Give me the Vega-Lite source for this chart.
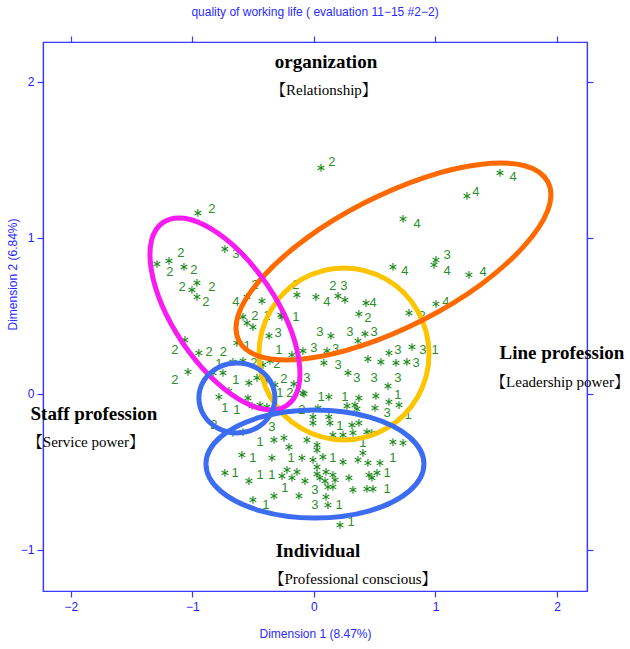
{
"$schema": "https://vega.github.io/schema/vega-lite/v6.json",
"width": 544, "height": 549,
"autosize": {"type": "none"},
"padding": {"left": 43, "top": 42, "right": 43, "bottom": 58},
"background": "white",
"title": {"text": "quality of working life ( evaluation 11−15 #2−2)", "fontSize": 12, "font": "Liberation Sans", "fontWeight": "normal", "color": "#2a2aff", "offset": 16, "anchor": "middle"},
"config": {
  "view": {"stroke": "#3a3aff", "strokeWidth": 1.2},
  "axis": {"domainColor": "#3a3aff", "domainWidth": 1.2, "tickColor": "#3a3aff", "tickWidth": 1.2, "labelColor": "#1a1aff", "titleColor": "#2a2aff", "labelFont": "Liberation Sans", "titleFont": "Liberation Sans", "labelFontSize": 12, "titleFontSize": 12, "titleFontWeight": "normal", "grid": false, "tickSize": 6, "zindex": 1}
},
"datasets": {
  "stars": [{"x":0.058,"y":1.449},{"x":-0.955,"y":1.160},{"x":-0.733,"y":0.929},{"x":-1.292,"y":0.833},{"x":-1.193,"y":0.853},{"x":-1.070,"y":0.814},{"x":-0.963,"y":0.712},{"x":-1.004,"y":0.667},{"x":-0.963,"y":0.622},{"x":-0.551,"y":0.622},{"x":-0.428,"y":0.596},{"x":-0.584,"y":0.494},{"x":-0.263,"y":0.494},{"x":-0.140,"y":0.635},{"x":0.016,"y":0.622},{"x":1.531,"y":1.417},{"x":1.259,"y":1.269},{"x":0.733,"y":1.122},{"x":0.650,"y":0.814},{"x":1.004,"y":0.859},{"x":0.988,"y":0.827},{"x":1.276,"y":0.763},{"x":0.198,"y":0.628},{"x":0.255,"y":0.603},{"x":0.428,"y":0.583},{"x":0.370,"y":0.513},{"x":1.004,"y":0.577},{"x":0.782,"y":0.519},{"x":0.140,"y":0.372},{"x":0.362,"y":0.340},{"x":0.420,"y":0.385},{"x":-0.091,"y":0.276},{"x":0.107,"y":0.276},{"x":0.617,"y":0.263},{"x":0.807,"y":0.301},{"x":0.082,"y":0.199},{"x":0.444,"y":0.224},{"x":0.551,"y":0.205},{"x":0.675,"y":0.199},{"x":0.765,"y":0.205},{"x":0.280,"y":0.135},{"x":0.609,"y":0.051},{"x":-0.091,"y":0.006},{"x":0.123,"y":-0.019},{"x":0.370,"y":-0.026},{"x":0.510,"y":-0.013},{"x":0.272,"y":-0.077},{"x":0.337,"y":-0.071},{"x":0.354,"y":-0.096},{"x":0.502,"y":-0.090},{"x":0.617,"y":-0.051},{"x":0.700,"y":-0.071},{"x":0.033,"y":-0.090},{"x":-0.008,"y":-0.147},{"x":0.123,"y":-0.147},{"x":0.313,"y":-0.199},{"x":0.370,"y":-0.186},{"x":-0.272,"y":0.506},{"x":-0.551,"y":0.455},{"x":-0.502,"y":0.429},{"x":-0.370,"y":0.372},{"x":-0.634,"y":0.327},{"x":-0.181,"y":0.250},{"x":-1.062,"y":0.346},{"x":-0.947,"y":0.263},{"x":-0.667,"y":0.205},{"x":-0.584,"y":0.212},{"x":-0.420,"y":0.186},{"x":-0.362,"y":0.212},{"x":-1.037,"y":0.141},{"x":-0.831,"y":0.135},{"x":-0.749,"y":0.135},{"x":-0.535,"y":0.071},{"x":-0.469,"y":0.103},{"x":-0.387,"y":0.090},{"x":-0.165,"y":0.064},{"x":-0.700,"y":0.019},{"x":-0.321,"y":0.058},{"x":-0.082,"y":0.0},{"x":-0.543,"y":-0.026},{"x":-0.444,"y":-0.071},{"x":-0.387,"y":-0.083},{"x":-0.782,"y":-0.019},{"x":-0.667,"y":-0.250},{"x":-0.584,"y":-0.244},{"x":0.132,"y":-0.186},{"x":0.239,"y":-0.263},{"x":0.156,"y":-0.263},{"x":0.321,"y":-0.250},{"x":0.436,"y":-0.244},{"x":0.477,"y":-0.250},{"x":0.650,"y":-0.308},{"x":0.733,"y":-0.314},{"x":-0.329,"y":-0.295},{"x":-0.247,"y":-0.282},{"x":-0.206,"y":-0.340},{"x":-0.058,"y":-0.295},{"x":0.025,"y":-0.327},{"x":0.025,"y":-0.359},{"x":-0.593,"y":-0.391},{"x":-0.346,"y":-0.410},{"x":-0.099,"y":-0.410},{"x":-0.008,"y":-0.423},{"x":0.074,"y":-0.404},{"x":0.239,"y":-0.436},{"x":0.362,"y":-0.423},{"x":0.444,"y":-0.442},{"x":0.543,"y":-0.442},{"x":0.403,"y":-0.378},{"x":-0.733,"y":-0.506},{"x":-0.535,"y":-0.558},{"x":-0.263,"y":-0.526},{"x":-0.222,"y":-0.487},{"x":-0.181,"y":-0.538},{"x":-0.140,"y":-0.500},{"x":-0.074,"y":-0.558},{"x":0.025,"y":-0.468},{"x":0.025,"y":-0.513},{"x":0.049,"y":-0.538},{"x":0.099,"y":-0.500},{"x":0.091,"y":-0.558},{"x":0.156,"y":-0.519},{"x":0.173,"y":-0.551},{"x":0.156,"y":-0.596},{"x":0.288,"y":-0.538},{"x":0.453,"y":-0.519},{"x":0.519,"y":-0.506},{"x":0.477,"y":-0.538},{"x":-0.329,"y":-0.654},{"x":-0.123,"y":-0.654},{"x":-0.502,"y":-0.679},{"x":0.115,"y":-0.596},{"x":0.321,"y":-0.615},{"x":0.436,"y":-0.609},{"x":0.486,"y":-0.609},{"x":0.099,"y":-0.660},{"x":0.115,"y":-0.712},{"x":0.214,"y":-0.840},{"x":-0.008,"y":-0.186},{"x":-0.510,"y":-0.077}],
  "labels": [{"x":0.148,"y":1.487,"t":"2"},{"x":-0.840,"y":1.186,"t":"2"},{"x":-0.642,"y":0.897,"t":"3"},{"x":-1.095,"y":0.904,"t":"2"},{"x":-1.185,"y":0.782,"t":"2"},{"x":-0.988,"y":0.795,"t":"2"},{"x":-1.086,"y":0.686,"t":"2"},{"x":-0.840,"y":0.686,"t":"2"},{"x":-0.889,"y":0.590,"t":"2"},{"x":-0.642,"y":0.590,"t":"4"},{"x":-0.486,"y":0.699,"t":"2"},{"x":-0.486,"y":0.500,"t":"2"},{"x":-0.387,"y":0.500,"t":"1"},{"x":-0.148,"y":0.494,"t":"1"},{"x":-0.148,"y":0.699,"t":"2"},{"x":1.638,"y":1.391,"t":"4"},{"x":1.333,"y":1.295,"t":"4"},{"x":0.848,"y":1.090,"t":"4"},{"x":0.749,"y":0.788,"t":"4"},{"x":1.095,"y":0.891,"t":"3"},{"x":1.095,"y":0.788,"t":"4"},{"x":1.391,"y":0.782,"t":"4"},{"x":0.107,"y":0.590,"t":"4"},{"x":0.156,"y":0.692,"t":"2"},{"x":0.247,"y":0.692,"t":"3"},{"x":0.486,"y":0.583,"t":"4"},{"x":0.444,"y":0.487,"t":"2"},{"x":1.086,"y":0.590,"t":"4"},{"x":0.889,"y":0.500,"t":"2"},{"x":0.049,"y":0.397,"t":"3"},{"x":0.296,"y":0.397,"t":"3"},{"x":0.494,"y":0.397,"t":"3"},{"x":0.0,"y":0.295,"t":"3"},{"x":0.178,"y":0.287,"t":"3"},{"x":0.691,"y":0.282,"t":"3"},{"x":0.897,"y":0.282,"t":"3"},{"x":0.996,"y":0.282,"t":"1"},{"x":0.198,"y":0.188,"t":"3"},{"x":0.840,"y":0.199,"t":"3"},{"x":0.354,"y":0.103,"t":"3"},{"x":0.494,"y":0.103,"t":"3"},{"x":0.691,"y":0.103,"t":"3"},{"x":-0.058,"y":0.103,"t":"3"},{"x":0.058,"y":-0.019,"t":"1"},{"x":0.255,"y":-0.019,"t":"1"},{"x":0.691,"y":-0.006,"t":"1"},{"x":0.601,"y":-0.122,"t":"3"},{"x":0.774,"y":-0.135,"t":"1"},{"x":0.214,"y":-0.205,"t":"1"},{"x":-0.296,"y":0.391,"t":"3"},{"x":-0.551,"y":0.308,"t":"1"},{"x":-0.288,"y":0.282,"t":"1"},{"x":-1.144,"y":0.282,"t":"2"},{"x":-0.862,"y":0.269,"t":"2"},{"x":-0.745,"y":0.269,"t":"2"},{"x":-0.782,"y":0.195,"t":"1"},{"x":-0.494,"y":0.199,"t":"2"},{"x":-0.305,"y":0.192,"t":"2"},{"x":-1.144,"y":0.090,"t":"2"},{"x":-0.642,"y":0.090,"t":"1"},{"x":-0.247,"y":0.096,"t":"2"},{"x":-0.280,"y":0.006,"t":"1"},{"x":-0.198,"y":0.006,"t":"2"},{"x":-0.733,"y":-0.090,"t":"1"},{"x":-0.634,"y":-0.103,"t":"1"},{"x":-0.823,"y":-0.199,"t":"2"},{"x":-0.346,"y":-0.212,"t":"3"},{"x":-0.099,"y":-0.103,"t":"2"},{"x":-0.444,"y":-0.308,"t":"1"},{"x":-0.502,"y":-0.410,"t":"1"},{"x":-0.189,"y":-0.410,"t":"1"},{"x":0.156,"y":-0.410,"t":"1"},{"x":0.403,"y":-0.314,"t":"1"},{"x":0.650,"y":-0.410,"t":"1"},{"x":-0.650,"y":-0.506,"t":"1"},{"x":-0.444,"y":-0.519,"t":"1"},{"x":-0.346,"y":-0.519,"t":"1"},{"x":0.601,"y":-0.506,"t":"1"},{"x":-0.239,"y":-0.603,"t":"1"},{"x":-0.395,"y":-0.712,"t":"1"},{"x":0.601,"y":-0.609,"t":"1"},{"x":0.008,"y":-0.615,"t":"3"},{"x":0.008,"y":-0.712,"t":"3"},{"x":0.206,"y":-0.712,"t":"1"},{"x":0.305,"y":-0.821,"t":"1"}],
  "ellipses": [
    {"e":"yellow","i":0,"x":0.947,"y":0.256},{"e":"yellow","i":1,"x":0.853,"y":-0.019},{"e":"yellow","i":2,"x":0.597,"y":-0.221},{"e":"yellow","i":3,"x":0.247,"y":-0.295},{"e":"yellow","i":4,"x":-0.103,"y":-0.221},{"e":"yellow","i":5,"x":-0.359,"y":-0.019},{"e":"yellow","i":6,"x":-0.453,"y":0.256},{"e":"yellow","i":7,"x":-0.359,"y":0.532},{"e":"yellow","i":8,"x":-0.103,"y":0.734},{"e":"yellow","i":9,"x":0.247,"y":0.808},{"e":"yellow","i":10,"x":0.597,"y":0.734},{"e":"yellow","i":11,"x":0.853,"y":0.532},
    {"e":"orange","i":0,"x":1.926,"y":1.358},{"e":"orange","i":1,"x":1.924,"y":1.177},{"e":"orange","i":2,"x":1.727,"y":0.946},{"e":"orange","i":3,"x":1.369,"y":0.699},{"e":"orange","i":4,"x":0.900,"y":0.476},{"e":"orange","i":5,"x":0.394,"y":0.310},{"e":"orange","i":6,"x":-0.071,"y":0.226},{"e":"orange","i":7,"x":-0.426,"y":0.236},{"e":"orange","i":8,"x":-0.617,"y":0.340},{"e":"orange","i":9,"x":-0.616,"y":0.522},{"e":"orange","i":10,"x":-0.418,"y":0.753},{"e":"orange","i":11,"x":-0.060,"y":0.999},{"e":"orange","i":12,"x":0.408,"y":1.222},{"e":"orange","i":13,"x":0.914,"y":1.389},{"e":"orange","i":14,"x":1.379,"y":1.472},{"e":"orange","i":15,"x":1.735,"y":1.463},
    {"e":"magenta","i":0,"x":-0.224,"y":-0.074},{"e":"magenta","i":1,"x":-0.397,"y":-0.100},{"e":"magenta","i":2,"x":-0.620,"y":-0.033},{"e":"magenta","i":3,"x":-0.861,"y":0.118},{"e":"magenta","i":4,"x":-1.082,"y":0.329},{"e":"magenta","i":5,"x":-1.251,"y":0.568},{"e":"magenta","i":6,"x":-1.339,"y":0.798},{"e":"magenta","i":7,"x":-1.337,"y":0.985},{"e":"magenta","i":8,"x":-1.241,"y":1.100},{"e":"magenta","i":9,"x":-1.068,"y":1.126},{"e":"magenta","i":10,"x":-0.845,"y":1.058},{"e":"magenta","i":11,"x":-0.604,"y":0.908},{"e":"magenta","i":12,"x":-0.383,"y":0.697},{"e":"magenta","i":13,"x":-0.214,"y":0.458},{"e":"magenta","i":14,"x":-0.126,"y":0.228},{"e":"magenta","i":15,"x":-0.128,"y":0.041},
    {"e":"bluesmall","i":0,"x":-0.321,"y":-0.026},{"e":"bluesmall","i":1,"x":-0.363,"y":-0.138},{"e":"bluesmall","i":2,"x":-0.477,"y":-0.220},{"e":"bluesmall","i":3,"x":-0.634,"y":-0.250},{"e":"bluesmall","i":4,"x":-0.790,"y":-0.220},{"e":"bluesmall","i":5,"x":-0.905,"y":-0.138},{"e":"bluesmall","i":6,"x":-0.947,"y":-0.026},{"e":"bluesmall","i":7,"x":-0.905,"y":0.087},{"e":"bluesmall","i":8,"x":-0.790,"y":0.169},{"e":"bluesmall","i":9,"x":-0.634,"y":0.199},{"e":"bluesmall","i":10,"x":-0.477,"y":0.169},{"e":"bluesmall","i":11,"x":-0.363,"y":0.087},
    {"e":"bluebig","i":0,"x":0.905,"y":-0.449},{"e":"bluebig","i":1,"x":0.785,"y":-0.622},{"e":"bluebig","i":2,"x":0.457,"y":-0.749},{"e":"bluebig","i":3,"x":0.008,"y":-0.795},{"e":"bluebig","i":4,"x":-0.440,"y":-0.749},{"e":"bluebig","i":5,"x":-0.769,"y":-0.622},{"e":"bluebig","i":6,"x":-0.889,"y":-0.449},{"e":"bluebig","i":7,"x":-0.769,"y":-0.276},{"e":"bluebig","i":8,"x":-0.440,"y":-0.149},{"e":"bluebig","i":9,"x":0.008,"y":-0.103},{"e":"bluebig","i":10,"x":0.457,"y":-0.149},{"e":"bluebig","i":11,"x":0.785,"y":-0.276}
  ],
  "heads": [{"x":0.099,"y":2.128,"t":"organization"},{"x":2.041,"y":0.263,"t":"Line profession"},{"x":-1.811,"y":-0.128,"t":"Staff profession"},{"x":0.033,"y":-1.006,"t":"Individual"}],
  "subs": [{"x":0.082,"y":1.949,"t":"【Relationship】"},{"x":2.025,"y":0.077,"t":"【Leadership power】"},{"x":-1.877,"y":-0.308,"t":"【Service power】"},{"x":0.321,"y":-1.186,"t":"【Professional conscious】"}]
},
"layer": [
  {"data": {"name": "heads"}, "mark": {"type": "text", "font": "Liberation Serif", "fontSize": 19, "fontWeight": "bold", "color": "black", "align": "center", "baseline": "middle", "clip": false},
   "encoding": {
     "x": {"field": "x", "type": "quantitative", "scale": {"domain": [-2.230, 2.247], "nice": false, "zero": false},
           "axis": {"orient": "bottom", "values": [-2, -1, 0, 1, 2], "title": "Dimension 1 (8.47%)", "titlePadding": 16, "labelPadding": 4}},
     "y": {"field": "y", "type": "quantitative", "scale": {"domain": [-1.263, 2.256], "nice": false, "zero": false},
           "axis": {"orient": "left", "values": [-1, 0, 1, 2], "title": "Dimension 2 (6.84%)", "labelPadding": 3, "titleX": -31, "titleY": 232, "titleBaseline": "middle"}},
     "text": {"field": "t"}}},
  {"data": {"name": "subs"}, "mark": {"type": "text", "font": "Liberation Serif, Noto Serif CJK SC, Noto Sans CJK SC", "fontSize": 15, "color": "black", "align": "center", "baseline": "middle"},
   "encoding": {"x": {"field": "x", "type": "quantitative", "axis": null}, "y": {"field": "y", "type": "quantitative", "axis": null}, "text": {"field": "t"}}},
  {"mark": {"type": "rule", "color": "#1a1aff", "strokeWidth": 1},
   "encoding": {"x": {"datum": 0, "type": "quantitative", "axis": {"orient": "top", "values": [-2, -1, 0, 1, 2], "labels": false, "title": null}}}},
  {"mark": {"type": "rule", "color": "#1a1aff", "strokeWidth": 1},
   "encoding": {"y": {"datum": 0, "type": "quantitative", "axis": {"orient": "right", "values": [-1, 0, 1, 2], "labels": false, "title": null}}}},
  {"data": {"name": "stars"}, "mark": {"type": "point", "shape": "M0,-1L0,1M-0.866,-0.5L0.866,0.5M-0.866,0.5L0.866,-0.5", "filled": false, "size": 60, "strokeWidth": 1.1, "color": "#1f8a1f", "opacity": 1},
   "encoding": {"x": {"field": "x", "type": "quantitative", "axis": null}, "y": {"field": "y", "type": "quantitative", "axis": null}}},
  {"data": {"name": "labels"}, "mark": {"type": "text", "font": "Liberation Sans", "fontSize": 13, "color": "#2a8f2a", "align": "center", "baseline": "middle"},
   "encoding": {"x": {"field": "x", "type": "quantitative", "axis": null}, "y": {"field": "y", "type": "quantitative", "axis": null}, "text": {"field": "t"}}},
  {"data": {"name": "ellipses"}, "mark": {"type": "line", "interpolate": "cardinal-closed", "strokeWidth": 5},
   "encoding": {
     "x": {"field": "x", "type": "quantitative", "axis": null},
     "y": {"field": "y", "type": "quantitative", "axis": null},
     "order": {"field": "i", "type": "quantitative"},
     "color": {"field": "e", "type": "nominal", "legend": null, "scale": {"domain": ["yellow", "orange", "magenta", "bluesmall", "bluebig"], "range": ["#ffc400", "#ff6a00", "#f81cf2", "#3c6cf0", "#3c6cf0"]}}}}
],
"resolve": {"axis": {"x": "independent", "y": "independent"}}
}
